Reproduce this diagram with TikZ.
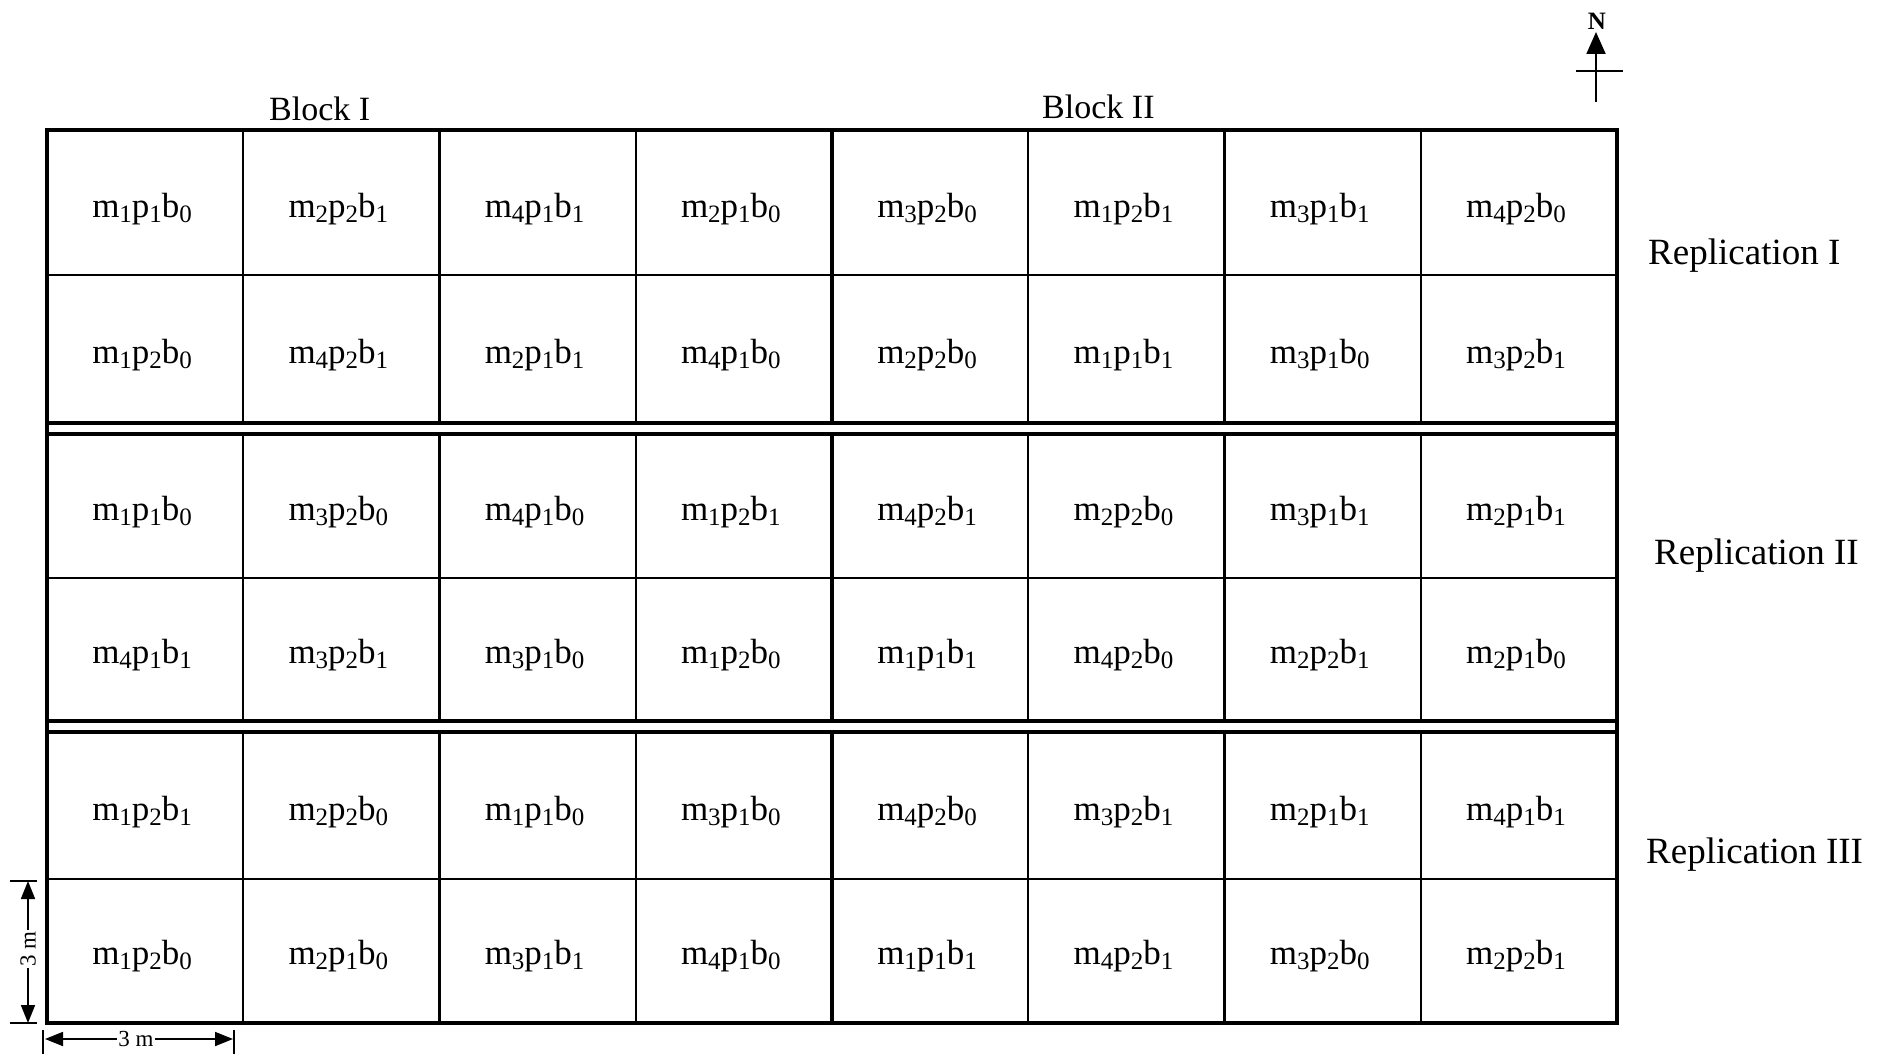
\documentclass[tikz,border=0pt]{standalone}
\usepackage{fontspec}
\setmainfont{Liberation Serif}
\usetikzlibrary{arrows.meta}
\newcommand\lowdig[1]{\raisebox{-0.32ex}{\fontsize{25}{25}\selectfont #1}}
\newcommand\trtd[3]{m\lowdig{#1}p\lowdig{#2}b\lowdig{#3}}
\begin{document}
\begin{tikzpicture}[x=1pt,y=-1pt,
  thickline/.style={line width=4.8pt},
  thinline/.style={line width=2.4pt},
  celltext/.style={font=\fontsize{35}{40}\selectfont, inner sep=0pt},
  label/.style={font=\fontsize{34}{40}\selectfont, inner sep=0pt, anchor=west},
  replabel/.style={font=\fontsize{37}{42}\selectfont, inner sep=0pt, anchor=west},
  dimtext/.style={font=\fontsize{23}{24}\selectfont, fill=white, inner sep=1pt},
  dimarrow/.style={line width=1.8pt, {Triangle[length=18pt,width=14pt]}-{Triangle[length=18pt,width=14pt]}},
  tick/.style={line width=1.6pt}]
\useasboundingbox (0,0) rectangle (1879,1054);

% thin internal lines per replication
\foreach \top/\mid/\bot in {130/275/423, 434/578/721, 732/879/1023}{
  \draw[thinline] (47,\mid) -- (1617,\mid);
  \foreach \i in {1,2,3,5,6,7}{
    \draw[thinline] ({47+196.25*\i},\top) -- ({47+196.25*\i},\bot);
  }
  \draw[thickline] (832,\top) -- (832,\bot);
}
% replication separators
\draw[thickline] (47,423) -- (1617,423);
\draw[thickline] (47,434) -- (1617,434);
\draw[thickline] (47,721) -- (1617,721);
\draw[thickline] (47,732) -- (1617,732);
% outer frame
\draw[thickline] (47,130) rectangle (1617,1023);

% cell texts
\foreach \yc/\row [count=\r] in {
  209/{110,221,411,210,320,121,311,420},
  355/{120,421,211,410,220,111,310,321},
  512/{110,320,410,121,421,220,311,211},
  655/{411,321,310,120,111,420,221,210},
  812/{121,220,110,310,420,321,211,411},
  956/{120,210,311,410,111,421,320,221}}{
  \foreach \code [count=\c] in \row {
    \node[celltext] (c-\r-\c) at ({44+196.25*(\c-0.5)},\yc) {\expandafter\trtd\code};
  }
}

% block and replication labels
\node[label] (blk1) at (269,109) {Block I};
\node[label] (blk2) at (1042,107) {Block II};
\node[replabel] (rep1) at (1648,256) {Replication I};
\node[replabel] (rep2) at (1654,556) {Replication II};
\node[replabel] (rep3) at (1646,855) {Replication III};

% north arrow
\node[font=\fontsize{25}{26}\selectfont\bfseries, inner sep=0pt] (north) at (1597,21) {N};
\coordinate (nbase) at (1596,102);
\coordinate (ntip) at (1596,32);
\draw[line width=2pt, -{Triangle[length=22pt,width=19pt]}] (nbase) -- (ntip);
\coordinate (cbl) at (1576,71);
\coordinate (cbr) at (1623,71);
\draw[line width=2pt] (cbl) -- (cbr);

% vertical dimension
\coordinate (vt) at (28,881);
\coordinate (vb) at (28,1023);
\draw[tick] (10,881) -- (37,881);
\draw[tick] (10,1023) -- (37,1023);
\draw[dimarrow] (vt) -- (vb);
\node[dimtext, rotate=90] (vdim) at (28,949) {3 m};

% horizontal dimension
\coordinate (hl) at (45,1039);
\coordinate (hr) at (233,1039);
\draw[tick] (43,1030) -- (43,1054);
\draw[tick] (234,1030) -- (234,1054);
\draw[dimarrow] (hl) -- (hr);
\node[dimtext] (hdim) at (136,1039) {3 m};
\end{tikzpicture}
\end{document}
